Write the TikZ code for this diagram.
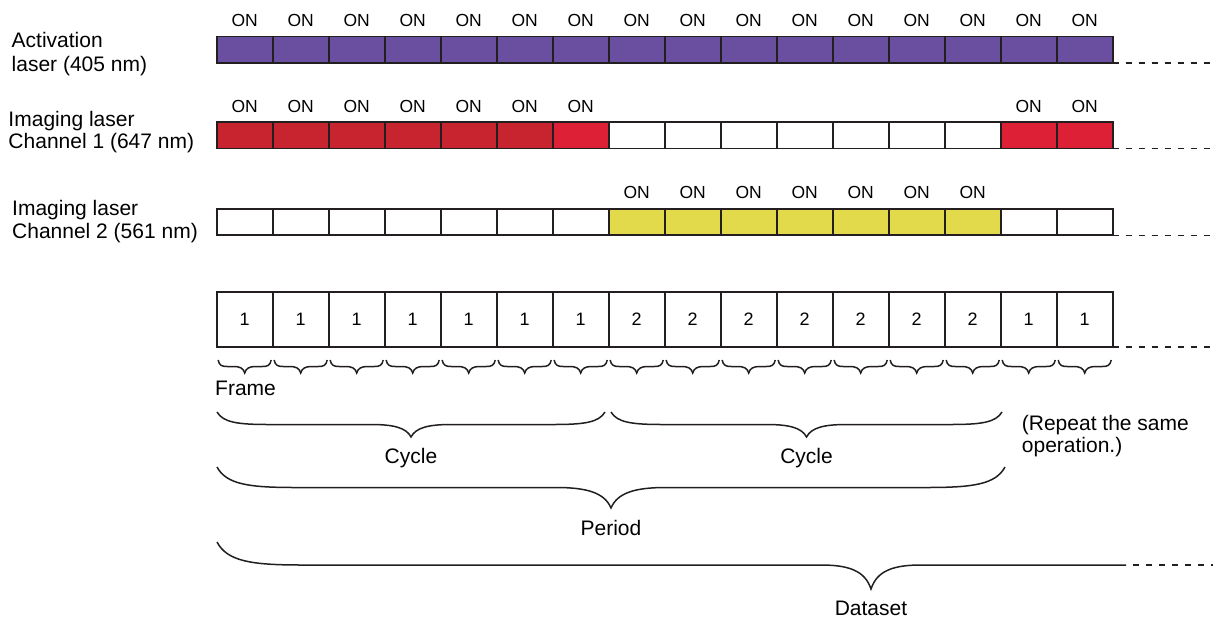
\documentclass[tikz,border=0pt]{standalone}
\usepackage{fontspec}
\setmainfont{Liberation Sans}
\definecolor{purp}{HTML}{6A4E9F}
\definecolor{dred}{HTML}{C8242F}
\definecolor{bred}{HTML}{DD2035}
\definecolor{yel}{HTML}{E2DA4B}
\definecolor{linec}{HTML}{231F20}
\newcommand\mybrace[6]{%
 \pgfmathsetmacro\hbA{#1}\pgfmathsetmacro\hbB{#2}%
 \pgfmathsetmacro\hbM{(\hbA+\hbB)/2}%
 \pgfmathsetmacro\hbY{#3}\pgfmathsetmacro\hbH{#3+#4/2}\pgfmathsetmacro\hbT{#3+#4}%
 \draw[brc] (\hbA,\hbY) .. controls ({\hbA+0.12*#5},{\hbY+0.42*#4}) and ({\hbA+0.4*#5},\hbH) .. ({\hbA+#5},\hbH)
   -- ({\hbM-#6},\hbH) .. controls ({\hbM-0.45*#6},\hbH) and ({\hbM-0.12*#6},{\hbH+0.12*#4}) .. (\hbM,\hbT)
   .. controls ({\hbM+0.12*#6},{\hbH+0.12*#4}) and ({\hbM+0.45*#6},\hbH) .. ({\hbM+#6},\hbH)
   -- ({\hbB-#5},\hbH) .. controls ({\hbB-0.4*#5},\hbH) and ({\hbB-0.12*#5},{\hbY+0.42*#4}) .. (\hbB,\hbY);%
}
\tikzset{
 cell/.style={draw=linec, line width=1.6pt, minimum width=56pt, minimum height=26.5pt, inner sep=0pt, outer sep=0pt},
 numcell/.style={cell, minimum height=55pt, font=\fontsize{18}{20}\selectfont},
 ontxt/.style={font=\fontsize{17.5}{20}\selectfont, anchor=base, inner sep=0pt},
 lbl/.style={font=\fontsize{21}{24}\selectfont, inner sep=0pt},
 brc/.style={line width=1.5pt, draw=linec},
 dashline/.style={draw=linec, line width=1.5pt, dash pattern=on 6pt off 7pt}
}
\begin{document}
\begin{tikzpicture}[x=1pt,y=-1pt]
\useasboundingbox[fill=white] (0,0) rectangle (1213,619);
\coordinate (rightedge) at (1213,0);
% left labels
\node[lbl, anchor=base west] (l1a) at (11.5,47.7) {Activation};
\node[lbl, anchor=base west] (l1b) at (11.5,71.5) {laser (405 nm)};
\node[lbl, anchor=base west] (l2a) at (8.3,126.5) {Imaging laser};
\node[lbl, anchor=base west] (l2b) at (8.3,148.5) {Channel 1 (647 nm)};
\node[lbl, anchor=base west] (l3a) at (12,215) {Imaging laser};
\node[lbl, anchor=base west] (l3b) at (12,238.3) {Channel 2 (561 nm)};
% row 1
\foreach \i in {1,...,16}{
  \node[cell, fill=purp] (a\i) at ({244.7+56*(\i-1)},49.75) {};
  \node[ontxt] (ona\i) at ({244.7+56*(\i-1)},26) {ON};
}
% row 2
\foreach \i/\c in {1/dred,2/dred,3/dred,4/dred,5/dred,6/dred,7/bred,8/white,9/white,10/white,11/white,12/white,13/white,14/white,15/bred,16/bred}{
  \node[cell, fill=\c] (b\i) at ({244.7+56*(\i-1)},135.35) {};
}
\foreach \i in {1,...,7,15,16}{
  \node[ontxt] (onb\i) at ({244.7+56*(\i-1)},112) {ON};
}
% row 3
\foreach \i/\c in {1/white,2/white,3/white,4/white,5/white,6/white,7/white,8/yel,9/yel,10/yel,11/yel,12/yel,13/yel,14/yel,15/white,16/white}{
  \node[cell, fill=\c] (c\i) at ({244.7+56*(\i-1)},222) {};
}
\foreach \i in {8,...,14}{
  \node[ontxt] (onc\i) at ({244.7+56*(\i-1)},198) {ON};
}
% row 4
\foreach \i/\n in {1/1,2/1,3/1,4/1,5/1,6/1,7/1,8/2,9/2,10/2,11/2,12/2,13/2,14/2,15/1,16/1}{
  \node[numcell] (d\i) at ({244.7+56*(\i-1)},319.5) {\n};
}
% dashed continuations
\draw[dashline] (a16.south east) -- (a16.south east -| rightedge);
\draw[dashline] (b16.south east) -- (b16.south east -| rightedge);
\draw[dashline] (c16.south east) -- (c16.south east -| rightedge);
\draw[dashline] (d16.south east) -- (d16.south east -| rightedge);
% frame braces
\foreach \i in {1,...,16}{
  \mybrace{216.7+56*(\i-1)+1.5}{216.7+56*\i-1.5}{360}{13}{9}{11}
}
\node[lbl, anchor=base west] (frame) at (215,395) {Frame};
% cycle braces
\mybrace{217}{605}{412}{25}{52}{40}
\mybrace{611}{1002}{412}{25}{52}{40}
\node[lbl, anchor=base] (cyc1) at (411,463.5) {Cycle};
\node[lbl, anchor=base] (cyc2) at (806.5,463) {Cycle};
\node[lbl, anchor=base west] (rep1) at (1021.7,430) {(Repeat the same};
\node[lbl, anchor=base west] (rep2) at (1021.7,452) {operation.)};
% period
\mybrace{217}{1005}{467}{41}{78}{55}
\node[lbl, anchor=base] (period) at (611,535) {Period};
% dataset (open-ended brace)
\coordinate (dsend) at (1126,565);
\draw[brc] (217,542) .. controls (227.2,561.24) and (251,565) .. (302,565)
  -- (821,565) .. controls (848.5,565) and (865,570.64) .. (871,589)
  .. controls (877,570.64) and (893.5,565) .. (921,565) -- (dsend);
\foreach \k in {1,...,7}{
  \draw[brc] ([xshift={(13*\k-6)*1pt}]dsend) -- ++(6,0);
}
\node[lbl, anchor=base] (dataset) at (871,615) {Dataset};
\end{tikzpicture}
\end{document}
